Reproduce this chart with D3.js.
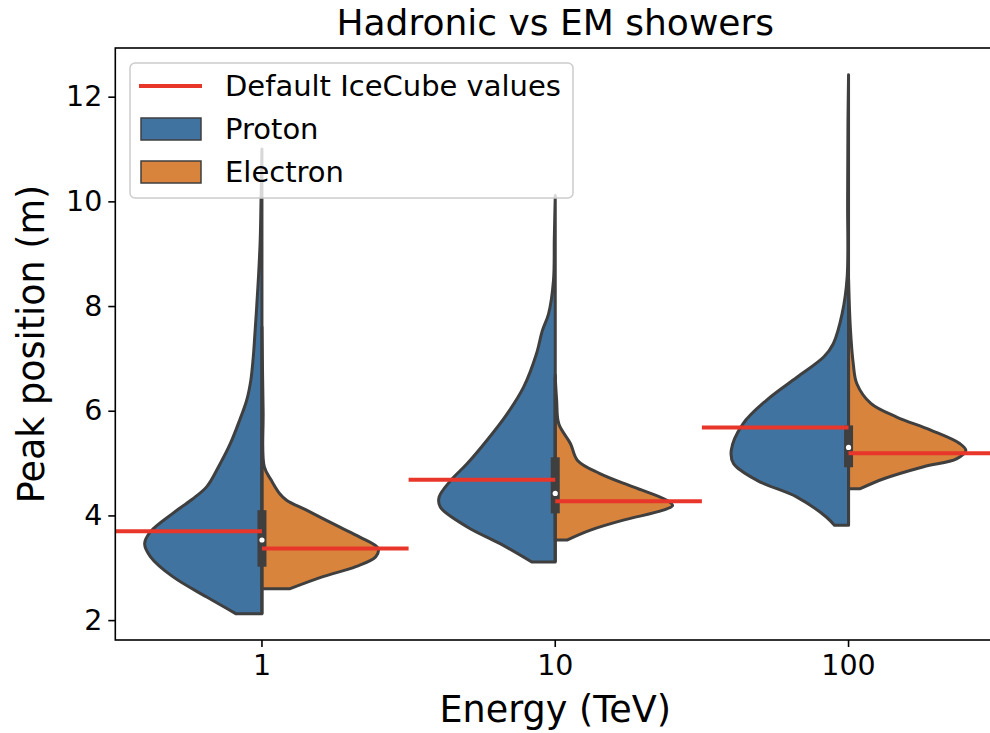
<!DOCTYPE html>
<html lang="en">
<head>
<meta charset="UTF-8">
<title>Hadronic vs EM showers</title>
<script src="https://cdn.jsdelivr.net/npm/d3@7/dist/d3.min.js"></script>
<style>
  body { margin: 0; background: #fff; }
  text { font-family: "DejaVu Sans", sans-serif; fill: #000; }
</style>
</head>
<body>
<svg id="chart" width="990" height="733"></svg>
<script>
// categories
const energies = ["1", "10", "100"];

// violin outlines: [peak position (m), relative half width]
const protonShape = [
  [[2.12, 0.22], [2.44, 0.47], [2.83, 0.76], [3.21, 0.95], [3.46, 1.0], [3.69, 0.95], [4.04, 0.76],
   [4.3, 0.6], [4.55, 0.47], [4.93, 0.37], [5.37, 0.27], [5.82, 0.19], [6.2, 0.13], [6.58, 0.095], [7.0, 0.075],
   [7.4, 0.062], [7.98, 0.045], [8.62, 0.028], [9.25, 0.015], [10.0, 0.008], [11.0, 0.0]],
  [[3.11, 0.2], [3.46, 0.47], [3.78, 0.75], [4.16, 0.98], [4.35, 0.99], [4.67, 0.89], [4.99, 0.75],
   [5.44, 0.58], [5.94, 0.41], [6.45, 0.27], [7.09, 0.16], [7.53, 0.11], [7.85, 0.057], [8.49, 0.015],
   [9.3, 0.008], [10.11, 0.0]],
  [[3.81, 0.12], [3.97, 0.19], [4.35, 0.44], [4.67, 0.78], [4.99, 0.98], [5.24, 1.0], [5.75, 0.9],
   [6.2, 0.7], [6.64, 0.44], [7.03, 0.21], [7.28, 0.13], [7.85, 0.055], [8.55, 0.012], [10.0, 0.008],
   [11.5, 0.005], [12.42, 0.0]]
];
const electronShape = [
  [[2.6, 0.24], [2.83, 0.52], [3.02, 0.8], [3.21, 0.97], [3.37, 0.99], [3.59, 0.83], [3.78, 0.66],
   [4.1, 0.38], [4.29, 0.21], [4.42, 0.15], [4.67, 0.08], [4.93, 0.02], [6.0, 0.01], [7.6, 0.0]],
  [[3.53, 0.1], [3.72, 0.3], [3.91, 0.58], [4.1, 0.92], [4.19, 1.0], [4.29, 0.95], [4.54, 0.67],
   [4.8, 0.38], [5.05, 0.19], [5.37, 0.13], [5.75, 0.03], [6.2, 0.012], [6.64, 0.0]],
  [[4.51, 0.1], [4.7, 0.3], [4.93, 0.64], [5.08, 0.92], [5.24, 1.0], [5.37, 0.95], [5.63, 0.7],
   [5.88, 0.41], [6.14, 0.19], [6.52, 0.07], [6.9, 0.04], [7.6, 0.015], [8.52, 0.0]]
];

// inner box stats
const q1 = [3.02, 4.04, 4.92];
const q3 = [4.10, 5.11, 5.72];
const medians = [3.53, 4.42, 5.30];
const whiskerLow = [2.12, 3.11, 3.81];
const whiskerHigh = [5.7, 6.7, 6.9];

// default IceCube values
const defaultProton = [3.70, 4.68, 5.68];
const defaultElectron = [3.37, 4.27, 5.19];

const yTicks = [2, 4, 6, 8, 10, 12];

const svg = d3.select("#chart");
const plotL = 115.3, plotR = 995.2, plotT = 48, plotB = 640;

const x = d3.scaleBand().domain(energies).range([plotL, plotR]).paddingInner(0).paddingOuter(0);
const y = d3.scaleLinear().domain([1.62, 12.93]).range([plotB, plotT]);
const bw = x.bandwidth();
const halfMax = bw * 0.4;
const cx = e => x(e) + bw / 2;

const blue = "#4173a0";
const orange = "#d8843c";
const gray = "#3f3f3f";
const red = "#e8362a";

const g = svg.append("g");

energies.forEach((e, i) => {
  const c = cx(e);
  const proton = d3.area()
    .y(d => y(d[0]))
    .x0(c)
    .x1(d => c - d[1] * halfMax)
    .curve(d3.curveCatmullRom);
  const electron = d3.area()
    .y(d => y(d[0]))
    .x0(c)
    .x1(d => c + d[1] * halfMax)
    .curve(d3.curveCatmullRom);

  g.append("path")
    .datum(protonShape[i])
    .attr("d", proton)
    .attr("fill", blue)
    .attr("stroke", gray)
    .attr("stroke-width", 3)
    .attr("stroke-linejoin", "round");

  g.append("path")
    .datum(electronShape[i])
    .attr("d", electron)
    .attr("fill", orange)
    .attr("stroke", gray)
    .attr("stroke-width", 3)
    .attr("stroke-linejoin", "round");

  // inner box
  g.append("line")
    .attr("x1", c).attr("x2", c)
    .attr("y1", y(whiskerLow[i])).attr("y2", y(whiskerHigh[i]))
    .attr("stroke", gray).attr("stroke-width", 3);
  g.append("rect")
    .attr("x", c - 4.5).attr("width", 9)
    .attr("y", y(q3[i])).attr("height", y(q1[i]) - y(q3[i]))
    .attr("fill", gray);
  g.append("circle")
    .attr("cx", c).attr("cy", y(medians[i]))
    .attr("r", 2.6).attr("fill", "#fff");

  // default values
  g.append("line")
    .attr("x1", x(e)).attr("x2", c)
    .attr("y1", y(defaultProton[i])).attr("y2", y(defaultProton[i]))
    .attr("stroke", red).attr("stroke-width", 4);
  g.append("line")
    .attr("x1", c).attr("x2", x(e) + bw)
    .attr("y1", y(defaultElectron[i])).attr("y2", y(defaultElectron[i]))
    .attr("stroke", red).attr("stroke-width", 4);
});

// axes frame
svg.append("rect")
  .attr("x", plotL).attr("y", plotT)
  .attr("width", plotR - plotL).attr("height", plotB - plotT)
  .attr("fill", "none").attr("stroke", "#000").attr("stroke-width", 1.6);

const yAxis = svg.append("g")
  .attr("transform", `translate(${plotL},0)`)
  .call(d3.axisLeft(y).tickValues(yTicks).tickSize(7).tickPadding(6).tickFormat(d3.format("d")));
const xAxis = svg.append("g")
  .attr("transform", `translate(0,${plotB})`)
  .call(d3.axisBottom(x).tickSize(7).tickPadding(8));
[yAxis, xAxis].forEach(a => {
  a.select(".domain").remove();
  a.selectAll(".tick line").attr("stroke", "#000").attr("stroke-width", 1.6);
  a.selectAll(".tick text").style("font-family", "DejaVu Sans").style("font-size", "28.5px").attr("fill", "#000");
});

// labels
svg.append("text")
  .attr("x", (plotL + plotR) / 2).attr("y", 35)
  .attr("text-anchor", "middle")
  .style("font-size", "36px")
  .text("Hadronic vs EM showers");

svg.append("text")
  .attr("x", (plotL + plotR) / 2).attr("y", 722)
  .attr("text-anchor", "middle")
  .style("font-size", "36.5px")
  .text("Energy (TeV)");

svg.append("text")
  .attr("transform", `translate(44,${(plotT + plotB) / 2}) rotate(-90)`)
  .attr("text-anchor", "middle")
  .style("font-size", "36.5px")
  .text("Peak position (m)");

// legend
const legend = svg.append("g");
legend.append("rect")
  .attr("x", 130).attr("y", 63).attr("width", 443).attr("height", 135)
  .attr("rx", 5)
  .attr("fill", "#fff").attr("fill-opacity", 0.8)
  .attr("stroke", "#ccc").attr("stroke-width", 1.5);

const legendItems = [
  { label: "Default IceCube values", type: "line", color: red },
  { label: "Proton", type: "patch", color: blue },
  { label: "Electron", type: "patch", color: orange }
];
legendItems.forEach((d, i) => {
  const yc = 86 + i * 43;
  if (d.type === "line") {
    legend.append("line")
      .attr("x1", 139).attr("x2", 202)
      .attr("y1", yc).attr("y2", yc)
      .attr("stroke", d.color).attr("stroke-width", 4);
  } else {
    legend.append("rect")
      .attr("x", 141).attr("y", yc - 11)
      .attr("width", 60).attr("height", 22)
      .attr("fill", d.color).attr("stroke", gray).attr("stroke-width", 1.5);
  }
  legend.append("text")
    .attr("x", 225).attr("y", yc + 10)
    .style("font-size", "29px")
    .text(d.label);
});
</script>
</body>
</html>
